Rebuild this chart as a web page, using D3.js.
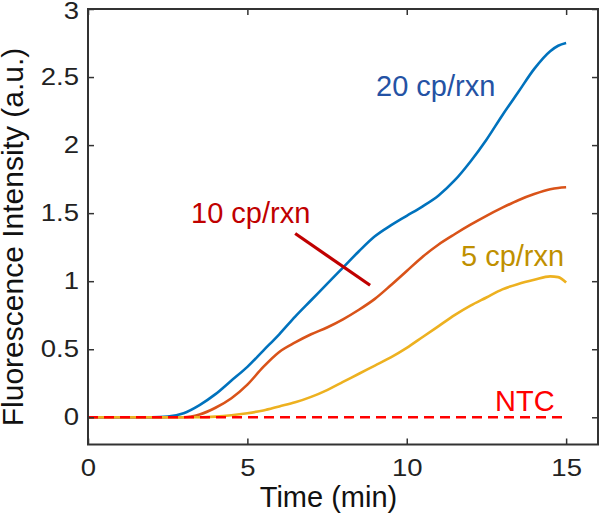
<!DOCTYPE html>
<html>
<head>
<meta charset="utf-8">
<script src="https://cdn.jsdelivr.net/npm/d3@7"></script>
<style>
  html, body { margin: 0; padding: 0; background: #fff; }
  svg { display: block; font-family: "Liberation Sans", Arial, Helvetica, sans-serif; }
</style>
</head>
<body>
<svg id="chart" width="600" height="516"></svg>
<script>
// ---- data ----
const time    = [0, 1, 2, 2.5, 3, 3.5, 4, 4.5, 5, 5.5, 6, 6.5, 7, 7.5, 8, 8.5, 9, 9.5, 10, 10.5, 11, 11.5, 12, 12.5, 13, 13.5, 14, 14.5, 14.75, 15];
const cp20    = [0, 0, 0, 0.005, 0.03, 0.09, 0.17, 0.27, 0.37, 0.49, 0.61, 0.74, 0.86, 0.98, 1.10, 1.22, 1.33, 1.41, 1.48, 1.55, 1.63, 1.74, 1.88, 2.04, 2.22, 2.39, 2.56, 2.69, 2.73, 2.75];
const cp10    = [0, 0, 0, 0, 0, 0.02, 0.07, 0.14, 0.24, 0.37, 0.48, 0.55, 0.61, 0.66, 0.72, 0.79, 0.87, 0.97, 1.075, 1.18, 1.27, 1.345, 1.415, 1.48, 1.54, 1.595, 1.64, 1.675, 1.685, 1.69];
const cp5     = [0, 0, 0, 0, 0, 0, 0.005, 0.015, 0.03, 0.05, 0.08, 0.11, 0.15, 0.20, 0.26, 0.32, 0.38, 0.44, 0.51, 0.59, 0.67, 0.75, 0.82, 0.88, 0.94, 0.98, 1.01, 1.035, 1.03, 0.99];
const ntcTime = [0, 15];
const ntc     = [0, 0];
const xTicks  = [0, 5, 10, 15];
const yTicks  = [0, 0.5, 1, 1.5, 2, 2.5, 3];
const seriesNames  = ["20 cp/rxn", "10 cp/rxn", "5 cp/rxn", "NTC"];

// ---- layout ----
const svg = d3.select("#chart");
const L = 88, R = 598, T = 9, B = 444.5;
const x = d3.scaleLinear().domain([0, 16]).range([L, R]);
const y = d3.scaleLinear().domain([-0.2, 3]).range([B, T]);
const axisColor = "#333333";

const line = d3.line().x(d => x(d[0])).y(d => y(d[1])).curve(d3.curveMonotoneX);

const series = [
  { vals: cp20, color: "#0072BD" },
  { vals: cp10, color: "#D95319" },
  { vals: cp5,  color: "#EDB120" }
];
series.forEach(s => {
  svg.append("path")
    .attr("d", line(time.map((t, i) => [t, s.vals[i]])))
    .attr("fill", "none")
    .attr("stroke", s.color)
    .attr("stroke-width", 2.6);
});
svg.append("path")
  .attr("d", line(ntcTime.map((t, i) => [t, ntc[i]])))
  .attr("fill", "none")
  .attr("stroke", "#FF0000")
  .attr("stroke-width", 2.6)
  .attr("stroke-dasharray", "10,6");

// ---- axes (box with inward ticks on all sides) ----
const tickLen = 6;
const fmt = d3.format("");
const xb = svg.append("g").attr("transform", `translate(0,${B})`)
  .call(d3.axisBottom(x).tickValues(xTicks).tickSizeInner(-tickLen).tickSizeOuter(0).tickPadding(15).tickFormat(fmt));
const xt = svg.append("g").attr("transform", `translate(0,${T})`)
  .call(d3.axisTop(x).tickValues(xTicks).tickSizeInner(-tickLen).tickSizeOuter(0).tickFormat(""));
const yl = svg.append("g").attr("transform", `translate(${L},0)`)
  .call(d3.axisLeft(y).tickValues(yTicks).tickSizeInner(-tickLen).tickSizeOuter(0).tickPadding(9).tickFormat(fmt));
const yr = svg.append("g").attr("transform", `translate(${R},0)`)
  .call(d3.axisRight(y).tickValues(yTicks).tickSizeInner(-tickLen).tickSizeOuter(0).tickFormat(""));
[xb, xt, yl, yr].forEach(g => {
  g.select(".domain").remove();
  g.selectAll(".tick line").attr("stroke", axisColor).attr("stroke-width", 1.5);
  g.selectAll(".tick text").attr("fill", "#222").attr("font-size", 23.5);
});
xb.selectAll(".tick text").attr("dy", "0.71em");
yl.selectAll(".tick").filter(d => d === 3).select("text").attr("dy", "0.42em");
// the reference's tick digits are slightly wider than Arial's
[xb, yl].forEach(g => {
  g.selectAll(".tick text").each(function () {
    const w = this.getComputedTextLength();
    d3.select(this).attr("textLength", w * 1.17).attr("lengthAdjust", "spacingAndGlyphs");
  });
});
svg.append("rect")
  .attr("x", L).attr("y", T).attr("width", R - L).attr("height", B - T)
  .attr("fill", "none").attr("stroke", axisColor).attr("stroke-width", 2);

// ---- axis titles ----
svg.append("text")
  .attr("x", 328.5).attr("y", 507)
  .attr("text-anchor", "middle").attr("font-size", 29).attr("fill", "#111")
  .text("Time (min)");
svg.append("text")
  .attr("transform", `translate(23,237) rotate(-90)`)
  .attr("text-anchor", "middle").attr("font-size", 30).attr("fill", "#111")
  .text("Fluorescence Intensity (a.u.)");

// ---- annotations ----
svg.append("text").attr("x", 376).attr("y", 96).attr("font-size", 29).attr("fill", "#2452A4").text(seriesNames[0]);
svg.append("text").attr("x", 191).attr("y", 223).attr("font-size", 29).attr("fill", "#C00000").text(seriesNames[1]);
svg.append("text").attr("x", 461).attr("y", 265.5).attr("font-size", 29).attr("fill", "#BF9000").text(seriesNames[2]);
svg.append("text").attr("x", 495).attr("y", 410.5).attr("font-size", 29).attr("fill", "#FF0000").text(seriesNames[3]);
svg.append("line")
  .attr("x1", x(6.5)).attr("y1", y(1.35))
  .attr("x2", x(8.85)).attr("y2", y(0.97))
  .attr("stroke", "#C00000").attr("stroke-width", 3.2);
</script>
</body>
</html>
